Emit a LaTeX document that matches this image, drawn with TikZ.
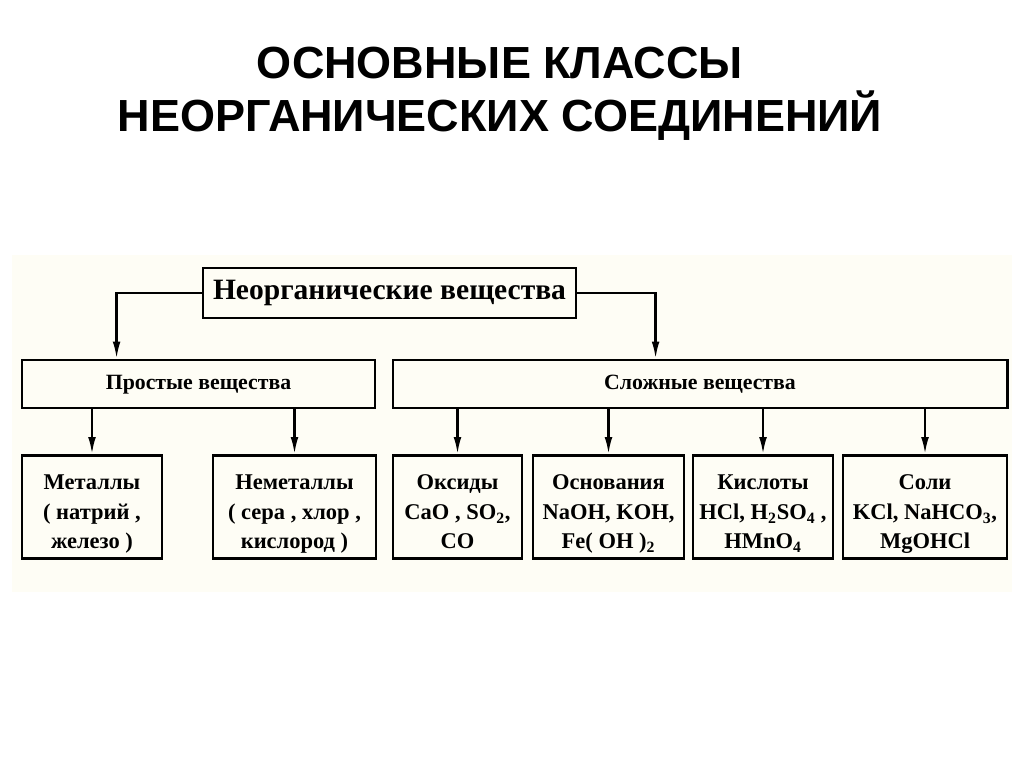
\documentclass[tikz,border=0pt]{standalone}
\usepackage{fontspec}
\setmainfont{Liberation Serif}
\newfontfamily\headfont{Liberation Sans}
\usetikzlibrary{arrows.meta}

\definecolor{cream}{RGB}{254,253,245}
\newcommand\lift{\rule{0pt}{24pt}}

\tikzset{
  box/.style={draw, line width=2pt, align=center, inner sep=2pt,
    font=\bfseries\fontsize{16}{21}\selectfont},
  headbox/.style={box, minimum height=1.2cm, text height=11pt, text depth=3.5pt,
    font=\bfseries\fontsize{15.5}{18}\selectfont},
  classbox/.style={box, minimum height=2.575cm, inner ysep=0pt},
  arr/.style={line width=1.6pt, -{Latex[length=12pt,width=5.5pt]}}
}

\begin{document}
\begin{tikzpicture}[x=0.025cm,y=-0.025cm]
\useasboundingbox (0,0) rectangle (1024,767);
\fill [cream] (12,255) rectangle (1012,592);

% title
\node [font=\headfont\bfseries\fontsize{32}{38}\selectfont, align=center] (title) at (500,94)
  {ОСНОВНЫЕ КЛАССЫ\\НЕОРГАНИЧЕСКИХ СОЕДИНЕНИЙ};

% top level
\node [headbox, minimum width=9.325cm, minimum height=1.25cm, text height=14pt, text depth=4.5pt,
  font=\bfseries\fontsize{21}{24}\selectfont] (inorg) at (389.5,293) {Неорганические вещества};

\node [headbox, minimum width=8.825cm] (simple) at (198.5,384) {Простые вещества};
\node [headbox, minimum width=15.35cm] (complex) at (700,384) {Сложные вещества};

\draw [arr] (inorg.west) -| ([xshift=2.4cm]simple.north west);
\draw [arr] (inorg.east) -| ([xshift=6.6cm]complex.north west);

% classes
\node [classbox, minimum width=3.5cm] (metals) at (92,507)
  {\lift Металлы\\( натрий ,\\ железо )\strut};
\node [classbox, minimum width=4.075cm] (nonmetals) at (294.5,507)
  {\lift Неметаллы\\( сера , хлор ,\\ кислород )\strut};
\node [classbox, minimum width=3.225cm] (oxides) at (457.5,507)
  {\lift Оксиды\\CaO , SO\textsubscript{2},\\CO\strut};
\node [classbox, minimum width=3.775cm] (bases) at (608.5,507)
  {\lift Основания\\NaOH, KOH,\\Fe( OH )\textsubscript{2}\strut};
\node [classbox, minimum width=3.5cm] (acids) at (763,507)
  {\lift Кислоты\\HCl, H\textsubscript{2}SO\textsubscript{4} ,\\HMnO\textsubscript{4}\strut};
\node [classbox, minimum width=4.1cm] (salts) at (925,507)
  {\lift Соли\\KCl, NaHCO\textsubscript{3},\\MgOHCl\strut};

\draw [arr] (metals.north |- simple.south) -- (metals.north);
\draw [arr] (nonmetals.north |- simple.south) -- (nonmetals.north);
\draw [arr] (oxides.north |- complex.south) -- (oxides.north);
\draw [arr] (bases.north |- complex.south) -- (bases.north);
\draw [arr] (acids.north |- complex.south) -- (acids.north);
\draw [arr] (salts.north |- complex.south) -- (salts.north);
\end{tikzpicture}
\end{document}
